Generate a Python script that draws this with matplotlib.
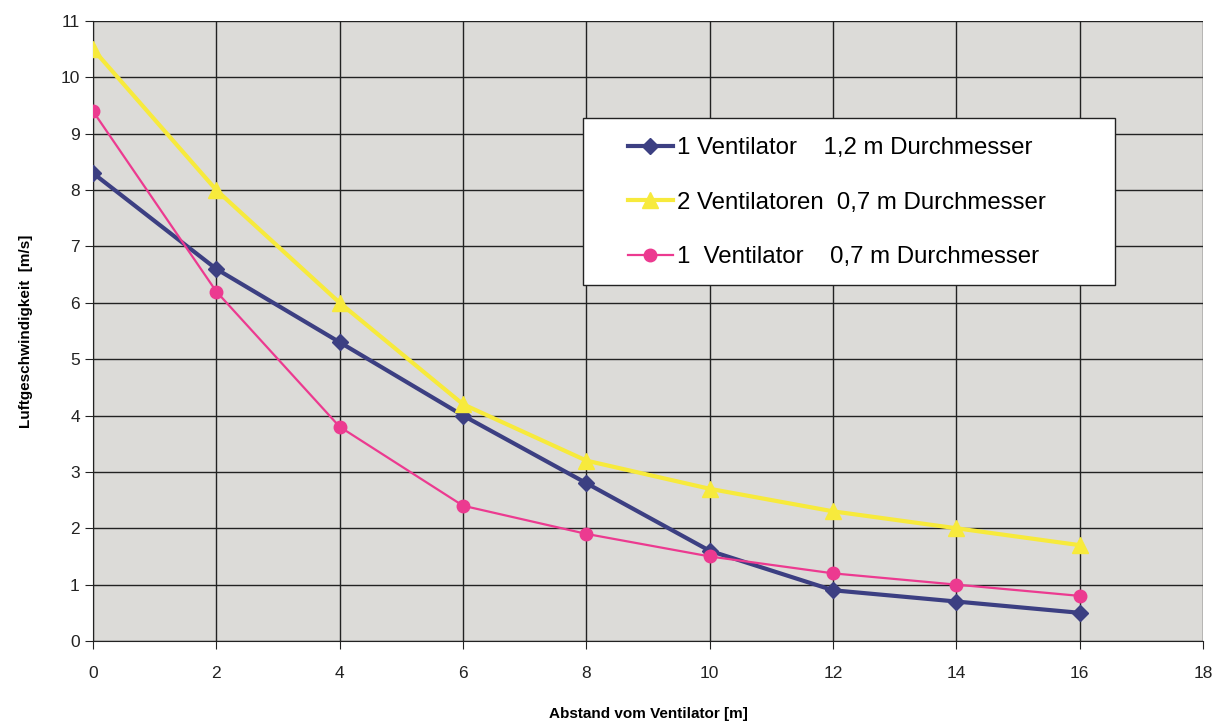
import numpy as np
import matplotlib.pyplot as plt
from matplotlib.patches import Rectangle

plt.rcParams['font.family'] = ['Liberation Sans', 'DejaVu Sans']

abstand = [0, 2, 4, 6, 8, 10, 12, 14, 16]
v_1_12 = [8.3, 6.6, 5.3, 4.0, 2.8, 1.6, 0.9, 0.7, 0.5]
v_2_07 = [10.5, 8.0, 6.0, 4.2, 3.2, 2.7, 2.3, 2.0, 1.7]
v_1_07 = [9.4, 6.2, 3.8, 2.4, 1.9, 1.5, 1.2, 1.0, 0.8]

labels = ['1 Ventilator    1,2 m Durchmesser',
          '2 Ventilatoren  0,7 m Durchmesser',
          '1  Ventilator    0,7 m Durchmesser']

fig = plt.figure(figsize=(12.28, 7.22), dpi=100)
ax = fig.add_axes([0.0757, 0.1122, 0.904, 0.8588])
ax.set_facecolor('#dcdbd8')

ax.plot(abstand, v_1_12, color='#3c3f82', lw=3, marker='D', ms=8, label=labels[0], zorder=3)
ax.plot(abstand, v_2_07, color='#f7ea3c', lw=3, marker='^', ms=11, label=labels[1], zorder=3)
ax.plot(abstand, v_1_07, color='#ec3a90', lw=1.6, marker='o', ms=9, label=labels[2], zorder=4)

ax.set_xlim(0, 18)
ax.set_ylim(0, 11)
ax.set_xticks(np.arange(0, 19, 2))
ax.set_yticks(np.arange(0, 12, 1))
ax.grid(True, color='#222222', lw=1)
ax.set_axisbelow(True)
ax.tick_params(axis='both', labelsize=12.5, length=6, color='#222222', labelcolor='#222222')
ax.tick_params(axis='x', pad=12)

for side in ['top', 'right']:
    ax.spines[side].set_visible(False)
for side in ['left', 'bottom']:
    ax.spines[side].set_color('#222222')

ax.set_xlabel('Abstand vom Ventilator [m]', fontsize=11, fontweight='bold', labelpad=19)
ax.set_ylabel('Luftgeschwindigkeit  [m/s]', fontsize=11, fontweight='bold', labelpad=20)

# legend box
box = Rectangle((0.441, 0.574), 0.48, 0.27, transform=ax.transAxes,
                facecolor='white', edgecolor='#222222', lw=1, zorder=5)
ax.add_patch(box)
leg = ax.legend(loc='center', bbox_to_anchor=(0.670, 0.707),
                fontsize=17.3, frameon=False,
                handlelength=1.9, handletextpad=0.15, labelspacing=1.35,
                borderpad=0, borderaxespad=0)
leg.set_zorder(6)

fig.savefig('out.png', dpi=100)
